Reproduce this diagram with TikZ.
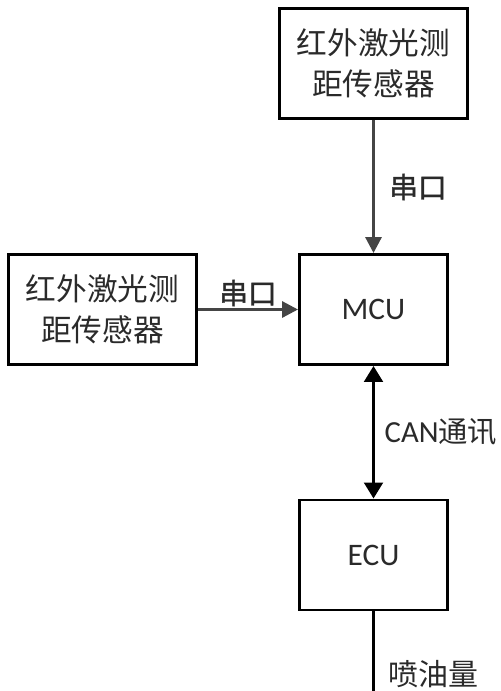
\documentclass[tikz,border=0pt]{standalone}
\usepackage{fontspec}
\setmainfont{Carlito}
\newfontfamily\cjk{Noto Sans CJK SC}
\newfontfamily\cjkb[FakeBold=1.2]{Noto Sans CJK SC}
\usepackage{tikz}
\usetikzlibrary{arrows.meta}
\definecolor{mgray}{HTML}{454545}
\definecolor{tgray}{HTML}{2A2A2A}
\tikzstyle{block} = [draw, line width=2.2pt, minimum height=82.5pt, align=center, text=tgray]
\tikzstyle{sensor} = [block, minimum width=141pt, font=\cjk\fontsize{23}{30.5}\selectfont]
\tikzstyle{unit} = [block, minimum width=111pt, font=\fontsize{23.5}{28}\selectfont]
\tikzstyle{lbl} = [text=tgray, font=\cjk\fontsize{21}{26}\selectfont]
\tikzset{grayarrow/.style={draw=mgray, line width=2.3pt, -{Triangle[length=12pt,width=12pt]}},
         bothway/.style={line width=2.3pt, {Triangle[length=12pt,width=14pt]}-{Triangle[length=12pt,width=14pt]}}}

\begin{document}
\begin{tikzpicture}[x=0.75pt, y=-0.75pt]
    \useasboundingbox (0,0) rectangle (500,691);

    % sensors
    \node[sensor] (sen1) at (373.5,63.5) {红外激光测\\距传感器};
    \node[sensor] (sen2) at (102.5,309.5) {红外激光测\\距传感器};
    % control units
    \node[unit] (mcu) at (373.5,309.5) {MCU};
    \node[unit] (ecu) at (373.5,555) {ECU};
    \coordinate (out1) at (373.5,700);

    % labels
    \node[lbl, font=\cjkb\fontsize{21.5}{26}\selectfont] (ser1) at (418,187) {串口};
    \node[lbl, font=\cjkb\fontsize{21.5}{26}\selectfont] (ser2) at (248,293) {串口};
    \node[lbl, anchor=west] (can) at (380,432) {\fontsize{23}{26}\selectfont\normalfont CAN\cjk\fontsize{22}{26}\selectfont 通讯};
    \node[lbl, anchor=west, font=\cjk\fontsize{22.5}{26}\selectfont] (fuel) at (384,674) {喷油量};

    % connections sensors -> MCU
    \draw[grayarrow] (sen1) -- (mcu);
    \draw[grayarrow] (sen2) -- (mcu);

    % MCU <-> ECU
    \draw[bothway] (mcu) -- (ecu);

    % ECU output
    \draw[line width=2.3pt] (ecu) -- (out1);
\end{tikzpicture}
\end{document}
